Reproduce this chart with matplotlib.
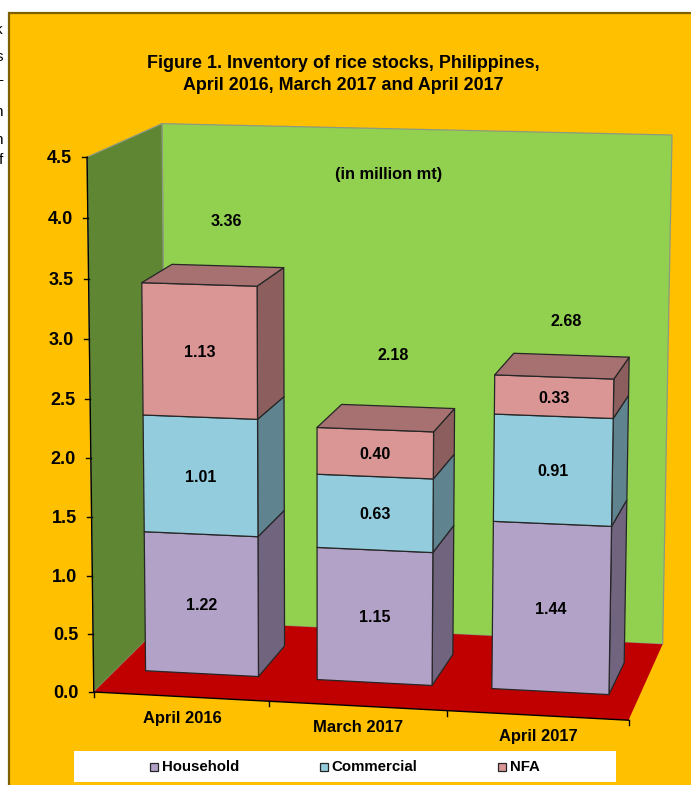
"""Inventory of rice stocks - 3D stacked column look, drawn with a fitted camera."""
import matplotlib
matplotlib.use("Agg")
import matplotlib.pyplot as plt
import numpy as np
from matplotlib.patches import Polygon, Rectangle

plt.rcParams["font.family"] = ["Liberation Sans", "DejaVu Sans"]

# ---------------------------------------------------------------------------
# Data
# ---------------------------------------------------------------------------
categories = ["April 2016", "March 2017", "April 2017"]
household = [1.22, 1.15, 1.44]
commercial = [1.01, 0.63, 0.91]
nfa = [1.13, 0.40, 0.33]
totals = ["3.36", "2.18", "2.68"]
y_ticks = [0.0, 0.5, 1.0, 1.5, 2.0, 2.5, 3.0, 3.5, 4.0, 4.5]
series_names = ["Household", "Commercial", "NFA"]

FRONT = ["#B3A2C7", "#93CDDD", "#D99694"]
SIDE = ["#71647F", "#5F8490", "#8C5F5E"]
TOP = "#A67170"
ORANGE = "#FFC000"
BACK_WALL = "#92D050"
LEFT_WALL = "#5F8632"
FLOOR = "#C00000"

# pixel positions, used to fit the camera
# (category, value, depth) -> (px, py)
anchors = [
    ((0, 0, 0), (95, 692)), ((0, 4.5, 0), (86.5, 157)), ((0, 4.5, 1), (163, 124)),
    ((0, 0, 1), (165, 620)), ((3, 4.5, 1), (672, 135)), ((3, 0, 1), (663, 644)),
    ((3, 0, 0), (628, 720)), ((1, 0, 0), (269, 702)), ((2, 0, 0), (447, 711)),
    ((0, 4, 0), (87.5, 218)), ((0, 3, 0), (89, 339)), ((0, 1, 0), (92.5, 575)),
]


def fit_camera(pairs):
    rows, rhs = [], []
    for (x, y, z), (u, v) in pairs:
        rows.append([x, y, z, 1, 0, 0, 0, 0, -u * x, -u * y, -u * z])
        rows.append([0, 0, 0, 0, x, y, z, 1, -v * x, -v * y, -v * z])
        rhs += [u, v]
    sol = np.linalg.lstsq(np.array(rows, float), np.array(rhs, float), rcond=None)[0]
    return np.append(sol, 1.0).reshape(3, 4)


CAM = fit_camera(anchors)


def proj(x, y, z):
    p = CAM @ np.array([x, y, z, 1.0])
    return p[0] / p[2], p[1] / p[2]


def face(ax, pts, color, ec="#262626", lw=0.9, zorder=3):
    ax.add_patch(Polygon([proj(*p) for p in pts], closed=True, facecolor=color,
                         edgecolor=ec, linewidth=lw, zorder=zorder, joinstyle="round"))


fig = plt.figure(figsize=(6.91, 7.85), dpi=100)
ax = fig.add_axes([0, 0, 1, 1])
ax.set_xlim(0, 691)
ax.set_ylim(785, 0)
ax.axis("off")

# panel, right and bottom edges run off the picture
ax.add_patch(Rectangle((9, 13), 700, 800, facecolor=ORANGE, edgecolor="#7F6000", linewidth=1.6, zorder=0))

# walls and floor
wall_edge = "#8C9A80"
face(ax, [(0, 0, 1), (3, 0, 1), (3, 4.5, 1), (0, 4.5, 1)], BACK_WALL, ec=wall_edge, zorder=1)
face(ax, [(0, 0, 0), (0, 0, 1), (0, 4.5, 1), (0, 4.5, 0)], LEFT_WALL, ec=wall_edge, zorder=1)
face(ax, [(0, 0, 0), (3, 0, 0), (3, 0, 1), (0, 0, 1)], FLOOR, ec="none", lw=0, zorder=1.5)

# axes lines and ticks
x0, y0 = proj(0, 0, 0)
x1, y1 = proj(0, 4.5, 0)
ax.plot([x0, x1], [y0, y1], color="black", lw=1, zorder=2)
x1, y1 = proj(3, 0, 0)
ax.plot([x0, x1], [y0, y1], color="black", lw=1, zorder=2)
for t in y_ticks:
    px, py = proj(0, t, 0)
    ax.plot([px - 5, px], [py, py], color="black", lw=1, zorder=2)
    ax.text(px - 15, py + 1.5, f"{t:.1f}", ha="right", va="center", fontsize=13, fontweight="bold", zorder=5)
for i in range(4):
    px, py = proj(i, 0, 0)
    ax.plot([px, px], [py, py + 5], color="black", lw=1, zorder=2)

# bars
BAR_L, BAR_R = 0.17, 0.83
DEPTH_F, DEPTH_B = 0.3, 0.72
for i in range(3):
    base = 0.0
    xa, xb = i + BAR_L, i + BAR_R
    for s, vals in enumerate([household, commercial, nfa]):
        top = base + vals[i]
        z = 3 + i * 0.1 + s * 0.01
        face(ax, [(xb, base, DEPTH_F), (xb, base, DEPTH_B), (xb, top, DEPTH_B), (xb, top, DEPTH_F)], SIDE[s], zorder=z)
        face(ax, [(xa, base, DEPTH_F), (xb, base, DEPTH_F), (xb, top, DEPTH_F), (xa, top, DEPTH_F)], FRONT[s], zorder=z)
        px, py = proj(i + 0.5, base + vals[i] / 2, DEPTH_F)
        ax.text(px, py + 1.5, f"{vals[i]:.2f}", ha="center", va="center", fontsize=11.6, fontweight="bold", zorder=6)
        base = top
    face(ax, [(xa, base, DEPTH_F), (xb, base, DEPTH_F), (xb, base, DEPTH_B), (xa, base, DEPTH_B)], TOP, zorder=z)

# text
for (px, py), lab in zip([(226, 221), (393, 356), (566, 321)], totals):
    ax.text(px, py, lab, ha="center", va="center", fontsize=11.6, fontweight="bold", zorder=6)
ax.text(389, 174, "(in million mt)", ha="center", va="center", fontsize=11.8, fontweight="bold", zorder=6)
ax.text(343, 63, "Figure 1. Inventory of rice stocks, Philippines,", ha="center", va="center", fontsize=12.9, fontweight="bold")
ax.text(343, 85, "April 2016, March 2017 and April 2017", ha="center", va="center", fontsize=12.9, fontweight="bold")
for (px, py), lab in zip([(182, 718), (358, 727), (538, 736)], categories):
    ax.text(px, py, lab, ha="center", va="center", fontsize=11.9, fontweight="bold")

# legend
ax.add_patch(Rectangle((74, 751), 542, 31, facecolor="white", edgecolor="none", zorder=4))
for mx, tx, name, col in zip([154, 324, 502.5], [162, 331, 510], series_names, FRONT):
    ax.add_patch(Rectangle((mx - 4, 763), 8, 8, facecolor=col, edgecolor="#262626", linewidth=0.9, zorder=5))
    ax.text(tx, 767, name, ha="left", va="center", fontsize=10.8, fontweight="bold", zorder=5)

# clipped letters of the neighbouring page text on the far left
for py, ch in zip([30, 57, 80, 112, 140, 160], ["k", "s", "-", "n", "n", "f"]):
    ax.text(3, py, ch, ha="right", va="center", fontsize=11, clip_on=True)

fig.savefig("out.png", dpi=100)
